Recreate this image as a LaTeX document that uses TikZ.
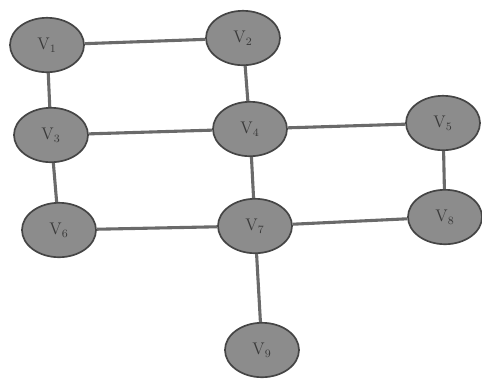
\documentclass[tikz,border=0pt]{standalone}
\usepackage{xcolor}
\usepackage{tikz}
\usetikzlibrary{shapes.geometric}
\definecolor{vfill}{HTML}{8C8C8C}
\definecolor{vline}{HTML}{454545}
\definecolor{eline}{HTML}{6A6A6A}
\definecolor{vtext}{HTML}{3A3A3A}

\begin{document}
\begin{tikzpicture}[
      x=0.025cm, y=-0.025cm,
      vtx/.style={ellipse, draw=vline, fill=vfill, line width=1.2pt,
                  minimum width=1.85cm, minimum height=1.36cm, inner sep=0pt,
                  font=\large\color{vtext}},
      edge/.style={draw=eline, line width=2.2pt}]
    \useasboundingbox[fill=white] (0,0) rectangle (482,378);

    \node[vtx] (v1) at (47,45)   {V$_1$};
    \node[vtx] (v2) at (243,38)  {V$_2$};
    \node[vtx] (v3) at (51,135)  {V$_3$};
    \node[vtx] (v4) at (250,129) {V$_4$};
    \node[vtx] (v5) at (443,123) {V$_5$};
    \node[vtx] (v6) at (59,230)  {V$_6$};
    \node[vtx] (v7) at (255,226) {V$_7$};
    \node[vtx] (v8) at (445,217) {V$_8$};
    \node[vtx] (v9) at (262,350) {V$_9$};

    \draw[edge] (v1) -- (v2);
    \draw[edge] (v1) -- (v3);
    \draw[edge] (v2) -- (v4);
    \draw[edge] (v3) -- (v4);
    \draw[edge] (v4) -- (v5);
    \draw[edge] (v3) -- (v6);
    \draw[edge] (v4) -- (v7);
    \draw[edge] (v5) -- (v8);
    \draw[edge] (v6) -- (v7);
    \draw[edge] (v7) -- (v8);
    \draw[edge] (v7) -- (v9);
  \end{tikzpicture}
\end{document}
